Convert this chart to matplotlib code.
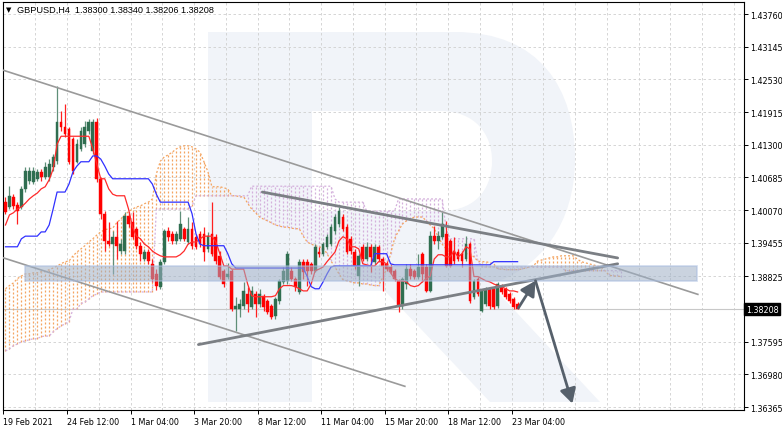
import numpy as np
import matplotlib
matplotlib.use("Agg")
from matplotlib import pyplot as plt
from matplotlib import transforms as mtransforms
from matplotlib.path import Path
from matplotlib.patches import PathPatch, Rectangle

# ---- data (GBPUSD H4) ----
opens = [1.4022, 1.4013, 1.4032, 1.4017, 1.4013, 1.4047, 1.4062, 1.4060, 1.4066, 1.4079,
         1.4069, 1.4069, 1.4088, 1.4100, 1.4173, 1.4163, 1.4160, 1.4141, 1.4098, 1.4122,
         1.4131, 1.4156, 1.4118, 1.4172, 1.4066, 1.4000, 1.3949, 1.3943, 1.3957, 1.3930,
         1.3930, 1.3996, 1.3985, 1.3972, 1.3940, 1.3915, 1.3928, 1.3906, 1.3887, 1.3863,
         1.3910, 1.3968, 1.3962, 1.3949, 1.3953, 1.3972, 1.3947, 1.3972, 1.3957, 1.3962,
         1.3962, 1.3934, 1.3962, 1.3957, 1.3921, 1.3893, 1.3882, 1.3893, 1.3821, 1.3821,
         1.3827, 1.3849, 1.3825, 1.3849, 1.3831, 1.3846, 1.3836, 1.3827, 1.3808, 1.3836,
         1.3872, 1.3874, 1.3893, 1.3878, 1.3853, 1.3910, 1.3910, 1.3906, 1.3893, 1.3928,
         1.3925, 1.3938, 1.3943, 1.3968, 1.3981, 1.3994, 1.3975, 1.3953, 1.3928, 1.3883,
         1.3938, 1.3915, 1.3938, 1.3910, 1.3938, 1.3915, 1.3906, 1.3900, 1.3893, 1.3874,
         1.3827, 1.3868, 1.3896, 1.3893, 1.3882, 1.3925, 1.3900, 1.3855, 1.3958, 1.3949,
         1.3957, 1.3962, 1.3949, 1.3930, 1.3928, 1.3925, 1.3915, 1.3943, 1.3844, 1.3878,
         1.3817, 1.3831, 1.3859, 1.3859, 1.3827, 1.3865, 1.3859, 1.3849, 1.3840, 1.38300]
highs = [1.4032, 1.4052, 1.4037, 1.4022, 1.4052, 1.4088, 1.4088, 1.4088, 1.4084, 1.4084,
         1.4098, 1.4103, 1.4113, 1.4240, 1.4193, 1.4207, 1.4163, 1.4145, 1.4141, 1.4163,
         1.4175, 1.4178, 1.4178, 1.4180, 1.4069, 1.4005, 1.3985, 1.3968, 1.3987, 1.3953,
         1.4004, 1.4004, 1.4004, 1.3975, 1.3947, 1.3934, 1.3934, 1.3915, 1.3896, 1.3915,
         1.3972, 1.3975, 1.3968, 1.3968, 1.4005, 1.3975, 1.3994, 1.3985, 1.3962, 1.3968,
         1.3975, 1.3966, 1.4022, 1.3962, 1.3930, 1.3896, 1.3908, 1.3896, 1.3844, 1.3840,
         1.3872, 1.3863, 1.3865, 1.3855, 1.3859, 1.3849, 1.3840, 1.3831, 1.3844, 1.3878,
         1.3900, 1.3930, 1.3900, 1.3882, 1.3915, 1.3915, 1.3915, 1.3910, 1.3943, 1.3938,
         1.3947, 1.3962, 1.3981, 1.4000, 1.4013, 1.4000, 1.3981, 1.3958, 1.3934, 1.3925,
         1.3943, 1.3947, 1.3943, 1.3943, 1.3941, 1.3919, 1.3911, 1.3906, 1.3896, 1.3878,
         1.3882, 1.3906, 1.3906, 1.3896, 1.3925, 1.3928, 1.3906, 1.3968, 1.3977, 1.3968,
         1.4004, 1.3987, 1.3953, 1.3957, 1.3934, 1.3930, 1.3958, 1.3947, 1.3878, 1.3882,
         1.3859, 1.3863, 1.3863, 1.3863, 1.3872, 1.3868, 1.3863, 1.3853, 1.3844, 1.38340]
lows = [1.4000, 1.4009, 1.4009, 1.3981, 1.4009, 1.4041, 1.4056, 1.4056, 1.4062, 1.4062,
        1.4066, 1.4062, 1.4081, 1.4094, 1.4156, 1.4145, 1.4094, 1.4075, 1.4096, 1.4118,
        1.4126, 1.4150, 1.4113, 1.4060, 1.3990, 1.3930, 1.3940, 1.3887, 1.3915, 1.3925,
        1.3925, 1.3975, 1.3953, 1.3934, 1.3911, 1.3911, 1.3906, 1.3872, 1.3857, 1.3859,
        1.3906, 1.3949, 1.3943, 1.3943, 1.3949, 1.3949, 1.3943, 1.3934, 1.3934, 1.3938,
        1.3911, 1.3928, 1.3921, 1.3906, 1.3878, 1.3863, 1.3878, 1.3817, 1.3780, 1.3806,
        1.3821, 1.3816, 1.3821, 1.3806, 1.3825, 1.3817, 1.3812, 1.3802, 1.3802, 1.3831,
        1.3868, 1.3868, 1.3874, 1.3855, 1.3849, 1.3878, 1.3865, 1.3887, 1.3891, 1.3919,
        1.3921, 1.3934, 1.3940, 1.3962, 1.3975, 1.3968, 1.3925, 1.3925, 1.3896, 1.3865,
        1.3911, 1.3911, 1.3891, 1.3906, 1.3911, 1.3855, 1.3893, 1.3887, 1.3874, 1.3816,
        1.3821, 1.3859, 1.3878, 1.3878, 1.3878, 1.3872, 1.3853, 1.3853, 1.3943, 1.3934,
        1.3953, 1.3900, 1.3900, 1.3906, 1.3911, 1.3900, 1.3911, 1.3833, 1.3840, 1.3846,
        1.3816, 1.3827, 1.3821, 1.3821, 1.3823, 1.3849, 1.3840, 1.3833, 1.3821, 1.38206]
closes = [1.4004, 1.4034, 1.4015, 1.4005, 1.4047, 1.4081, 1.4081, 1.4081, 1.4079, 1.4069,
          1.4088, 1.4094, 1.4107, 1.4173, 1.4163, 1.4150, 1.4098, 1.4081, 1.4131, 1.4156,
          1.4163, 1.4172, 1.4172, 1.4066, 1.4000, 1.3949, 1.3943, 1.3957, 1.3940, 1.3943,
          1.3996, 1.3981, 1.3957, 1.3940, 1.3925, 1.3928, 1.3911, 1.3878, 1.3865, 1.3910,
          1.3968, 1.3957, 1.3949, 1.3962, 1.3981, 1.3953, 1.3972, 1.3940, 1.3938, 1.3943,
          1.3928, 1.3958, 1.3925, 1.3911, 1.3882, 1.3868, 1.3887, 1.3821, 1.3827, 1.3831,
          1.3855, 1.3831, 1.3855, 1.3831, 1.3849, 1.3825, 1.3816, 1.3806, 1.3840, 1.3874,
          1.3893, 1.3925, 1.3878, 1.3863, 1.3910, 1.3891, 1.3893, 1.3893, 1.3938, 1.3925,
          1.3943, 1.3957, 1.3975, 1.3994, 1.4005, 1.3972, 1.3928, 1.3930, 1.3902, 1.3921,
          1.3915, 1.3938, 1.3919, 1.3938, 1.3915, 1.3902, 1.3896, 1.3891, 1.3878, 1.3827,
          1.3878, 1.3896, 1.3883, 1.3882, 1.3900, 1.3887, 1.3855, 1.3958, 1.3949, 1.3958,
          1.3981, 1.3902, 1.3902, 1.3911, 1.3915, 1.3911, 1.3943, 1.3836, 1.3874, 1.3849,
          1.3855, 1.3859, 1.3827, 1.3825, 1.3868, 1.3853, 1.3844, 1.3836, 1.3825, 1.38208]

# Ichimoku lines
tenkan = [1.3979, 1.3998, 1.4002, 1.4009, 1.4013, 1.4020, 1.4028, 1.4034, 1.4039, 1.4047,
          1.4051, 1.4064, 1.4084, 1.4131, 1.4146, 1.4146, 1.4146, 1.4146, 1.4146, 1.4146,
          1.4146, 1.4146, 1.4122, 1.4094, 1.4066, 1.4066, 1.4047, 1.4037, 1.4034, 1.4034,
          1.4034, 1.4009, 1.3975, 1.3958, 1.3953, 1.3943, 1.3938, 1.3930, 1.3925, 1.3921,
          1.3919, 1.3919, 1.3919, 1.3919, 1.3923, 1.3930, 1.3943, 1.3947, 1.3947, 1.3953,
          1.3958, 1.3958, 1.3958, 1.3947, 1.3925, 1.3902, 1.3902, 1.3896, 1.3896, 1.3896,
          1.3896, 1.3868, 1.3846, 1.3844, 1.3844, 1.3844, 1.3844, 1.3844, 1.3846, 1.3859,
          1.3865, 1.3865, 1.3865, 1.3863, 1.3859, 1.3855, 1.3855, 1.3868, 1.3893, 1.3896,
          1.3900, 1.3910, 1.3919, 1.3928, 1.3949, 1.3957, 1.3953, 1.3938, 1.3938, 1.3934,
          1.3906, 1.3904, 1.3902, 1.3902, 1.3910, 1.3910, 1.3906, 1.3889, 1.3878, 1.3874,
          1.3874, 1.3872, 1.3865, 1.3863, 1.3865, 1.3872, 1.3878, 1.3883, 1.3915, 1.3923,
          1.3923, 1.3919, 1.3919, 1.3930, 1.3919, 1.3925, 1.3938, 1.3934, 1.3882, 1.3882,
          1.3878, 1.3874, 1.3872, 1.3868, 1.3865, 1.3863, 1.3859, 1.3855, 1.3855, 1.3853]
kijun = [1.3938, 1.3938, 1.3938, 1.3938, 1.3953, 1.3958, 1.3958, 1.3958, 1.3958, 1.3966,
         1.3966, 1.3979, 1.4009, 1.4041, 1.4041, 1.4041, 1.4056, 1.4079, 1.4090, 1.4098,
         1.4098, 1.4098, 1.4109, 1.4109, 1.4103, 1.4090, 1.4075, 1.4066, 1.4066, 1.4066,
         1.4066, 1.4066, 1.4066, 1.4066, 1.4066, 1.4066, 1.4066, 1.4056, 1.4037, 1.4022,
         1.4022, 1.4022, 1.4022, 1.4022, 1.4022, 1.4022, 1.4022, 1.4000, 1.3962, 1.3943,
         1.3940, 1.3940, 1.3940, 1.3940, 1.3940, 1.3940, 1.3925, 1.3906, 1.3898, 1.3898,
         1.3898, 1.3898, 1.3898, 1.3898, 1.3898, 1.3898, 1.3898, 1.3898, 1.3898, 1.3898,
         1.3898, 1.3898, 1.3898, 1.3898, 1.3898, 1.3898, 1.3882, 1.3863, 1.3859, 1.3859,
         1.3872, 1.3887, 1.3900, 1.3902, 1.3902, 1.3902, 1.3902, 1.3902, 1.3902, 1.3902,
         1.3902, 1.3902, 1.3902, 1.3925, 1.3925, 1.3925, 1.3925, 1.3906, 1.3904, 1.3904,
         1.3904, 1.3904, 1.3904, 1.3904, 1.3904, 1.3904, 1.3904, 1.3904, 1.3904, 1.3904,
         1.3904, 1.3904, 1.3904, 1.3904, 1.3904, 1.3904, 1.3904, 1.3904, 1.3904, 1.3904,
         1.3904, 1.3904, 1.3904, 1.3910, 1.3910, 1.3910, 1.3910, 1.3910, 1.3910, 1.3910]
# cloud spans run 26 bars past the last candle
span_a = [1.3859, 1.3865, 1.3870, 1.3878, 1.3883, 1.3887, 1.3887, 1.3889, 1.3889, 1.3891,
          1.3891, 1.3895, 1.3898, 1.3902, 1.3906, 1.3910, 1.3911, 1.3921, 1.3928, 1.3934,
          1.3940, 1.3947, 1.3953, 1.3960, 1.3966, 1.3970, 1.3972, 1.3973, 1.3983, 1.3990,
          1.3998, 1.4004, 1.4009, 1.4013, 1.4015, 1.4019, 1.4022, 1.4028, 1.4075, 1.4099,
          1.4107, 1.4111, 1.4116, 1.4122, 1.4126, 1.4128, 1.4128, 1.4126, 1.4122, 1.4116,
          1.4098, 1.4079, 1.4051, 1.4051, 1.4051, 1.4049, 1.4047, 1.4034, 1.4034, 1.4032,
          1.4032, 1.4020, 1.4009, 1.4002, 1.3994, 1.3990, 1.3987, 1.3983, 1.3979, 1.3977,
          1.3975, 1.3975, 1.3973, 1.3972, 1.3972, 1.3958, 1.3947, 1.3943, 1.3940, 1.3938,
          1.3936, 1.3925, 1.3911, 1.3900, 1.3887, 1.3876, 1.3874, 1.3872, 1.3870, 1.3870,
          1.3868, 1.3868, 1.3866, 1.3865, 1.3865, 1.3880, 1.3896, 1.3925, 1.3953, 1.3968,
          1.3981, 1.3987, 1.3990, 1.3994, 1.3994, 1.3994, 1.3987, 1.3979, 1.3972, 1.3957,
          1.3943, 1.3934, 1.3925, 1.3925, 1.3925, 1.3925, 1.3925, 1.3925, 1.3919, 1.3911,
          1.3910, 1.3910, 1.3908, 1.3906, 1.3896, 1.3896, 1.3895, 1.3895, 1.3895, 1.3895,
          1.3896, 1.3898, 1.3900, 1.3902, 1.3911, 1.3913, 1.3915, 1.3917, 1.3919, 1.3919,
          1.3921, 1.3921, 1.3921, 1.3921, 1.3915, 1.3910, 1.3908, 1.3906, 1.3904, 1.3902,
          1.3900, 1.3893, 1.3885, 1.3883, 1.3883, 1.3882]
span_b = [1.3742, 1.3746, 1.3752, 1.3755, 1.3759, 1.3761, 1.3763, 1.3765, 1.3765, 1.3769,
          1.3770, 1.3770, 1.3778, 1.3784, 1.3789, 1.3793, 1.3797, 1.3821, 1.3821, 1.3831,
          1.3834, 1.3840, 1.3846, 1.3849, 1.3853, 1.3853, 1.3853, 1.3853, 1.3853, 1.3853,
          1.3853, 1.3853, 1.3853, 1.3853, 1.3853, 1.3853, 1.3853, 1.3853, 1.4009, 1.4009,
          1.4009, 1.4009, 1.4009, 1.4009, 1.4009, 1.4009, 1.4009, 1.4015, 1.4034, 1.4034,
          1.4034, 1.4034, 1.4034, 1.4034, 1.4034, 1.4034, 1.4034, 1.4034, 1.4034, 1.4034,
          1.4034, 1.4034, 1.4052, 1.4052, 1.4052, 1.4052, 1.4052, 1.4052, 1.4052, 1.4052,
          1.4052, 1.4052, 1.4052, 1.4052, 1.4052, 1.4052, 1.4052, 1.4052, 1.4052, 1.4052,
          1.4052, 1.4052, 1.4052, 1.4028, 1.4022, 1.4022, 1.4022, 1.4022, 1.4022, 1.4022,
          1.4022, 1.4005, 1.4005, 1.4005, 1.4005, 1.4005, 1.4005, 1.4005, 1.4005, 1.4028,
          1.4028, 1.4028, 1.4028, 1.4028, 1.4028, 1.4028, 1.4028, 1.4028, 1.4028, 1.4028,
          1.4028, 1.3972, 1.3953, 1.3953, 1.3953, 1.3953, 1.3953, 1.3953, 1.3953, 1.3911,
          1.3900, 1.3900, 1.3900, 1.3900, 1.3900, 1.3900, 1.3900, 1.3900, 1.3900, 1.3900,
          1.3900, 1.3900, 1.3900, 1.3900, 1.3900, 1.3900, 1.3900, 1.3900, 1.3900, 1.3900,
          1.3900, 1.3893, 1.3893, 1.3893, 1.3893, 1.3893, 1.3893, 1.3893, 1.3893, 1.3893,
          1.3893, 1.3893, 1.3893, 1.3893, 1.3893, 1.3893]

# axis labels
date_labels = ["19 Feb 2021", "24 Feb 12:00", "1 Mar 04:00", "3 Mar 20:00", "8 Mar 12:00",
               "11 Mar 04:00", "15 Mar 20:00", "18 Mar 12:00", "23 Mar 04:00"]
date_bars = [0, 16, 32, 48, 64, 80, 96, 112, 128]
price_ticks = [1.43760, 1.43145, 1.42530, 1.41915, 1.41300, 1.40685, 1.40070,
               1.39455, 1.38825, 1.37595, 1.36980, 1.36365]
last_price = 1.38208
title_text = "GBPUSD,H4  1.38300 1.38340 1.38206 1.38208"

# drawn objects: (bars, prices)
channel_upper = ([-1.3, 174.6], [1.4272, 1.3848])
channel_lower = ([-1.3, 100.8], [1.3919, 1.3675])
wedge_upper = ([64.7, 154.2], [1.4041, 1.3917])
wedge_lower = ([48.6, 154.2], [1.3754, 1.3906])
forecast_path = ([129.2, 133.5, 142.8], [1.3823, 1.3874, 1.3643])
zone_bars = [5.0, 174.3]
zone_prices = [1.3874, 1.3902]

# ---- figure ----
W, H = 782, 431
fig = plt.figure(figsize=(W / 100, H / 100), dpi=100)
fig.patch.set_facecolor("white")
ax = fig.add_axes([2.5 / W, (H - 411) / H, 741 / W, 408 / H])
ax.set_xlim(-0.75, 185.9)
ax.set_ylim(1.36309, 1.43986)


# RoboForex style "R" watermark, in figure pixels
def px(x, y):
    return (x / W, 1 - y / H)


verts = [px(208, 33), px(455, 33), px(540, 33), px(575, 90), px(575, 160),
         px(575, 225), px(540, 270), px(490, 285), px(600, 403), px(490, 403),
         px(385, 292), px(312, 292), px(312, 403), px(208, 403), px(208, 33),
         px(312, 112), px(312, 212), px(440, 212), px(480, 212), px(492, 185), px(492, 162),
         px(492, 135), px(475, 112), px(440, 112), px(312, 112)]
codes = ([Path.MOVETO, Path.LINETO, Path.CURVE4, Path.CURVE4, Path.CURVE4,
          Path.CURVE4, Path.CURVE4, Path.CURVE4, Path.LINETO, Path.LINETO,
          Path.LINETO, Path.LINETO, Path.LINETO, Path.LINETO, Path.CLOSEPOLY,
          Path.MOVETO, Path.LINETO, Path.LINETO, Path.CURVE4, Path.CURVE4, Path.CURVE4,
          Path.CURVE4, Path.CURVE4, Path.CURVE4, Path.CLOSEPOLY])
ax.add_patch(PathPatch(Path(verts, codes), transform=fig.transFigure,
                       facecolor="#f1f4f9", edgecolor="none", zorder=0))

# grid
for xb in range(-8, 190, 8):
    ax.axvline(xb - 0.5, color="#cfcfcf", lw=0.6, ls=(0, (3, 3)), zorder=1)
for p in price_ticks:
    ax.axhline(p, color="#cfcfcf", lw=0.6, ls=(0, (3, 3)), zorder=1)
ax.axhline(last_price, color="#c8c8c8", lw=0.8, zorder=1)

# ichimoku cloud
sa = np.array(span_a)
sb = np.array(span_b)
cx = np.arange(len(sa))
cloud_cols = np.where(sa >= sb, "#f4a460", "#d4b0dc")
ax.vlines(cx, np.minimum(sa, sb), np.maximum(sa, sb), colors=cloud_cols,
          linestyles=(0, (1.6, 1.6)), lw=0.9, zorder=2)
ax.plot(cx, sa, color="#f4a460", lw=0.9, ls=(0, (1.6, 1.6)), zorder=2)
ax.plot(cx, sb, color="#d4b0dc", lw=0.9, ls=(0, (1.6, 1.6)), zorder=2)

# candles
o = np.array(opens)
c = np.array(closes)
hi = np.array(highs)
lo = np.array(lows)
bx = np.arange(len(o))
up = c >= o
ax.vlines(bx[up], lo[up], hi[up], color="#5f8f78", lw=0.9, zorder=3)
ax.vlines(bx[~up], lo[~up], hi[~up], color="#ff2020", lw=0.9, zorder=3)
body_h = np.maximum(np.abs(c - o), 0.00006)
ax.bar(bx[up], body_h[up], bottom=np.minimum(o, c)[up], width=0.7,
       color="#2f6e50", edgecolor="#2f6e50", lw=0.3, zorder=3)
ax.bar(bx[~up], body_h[~up], bottom=np.minimum(o, c)[~up], width=0.7,
       color="#ff0000", edgecolor="#ff0000", lw=0.3, zorder=3)

# tenkan / kijun
ax.plot(bx, tenkan, color="#ff2a2a", lw=0.9, zorder=4)
ax.plot(bx, kijun, color="#3030ff", lw=0.9, zorder=4)

# trend lines
ax.plot(*channel_upper, color="#9a9a9a", lw=1.2, zorder=5, solid_capstyle="butt")
ax.plot(*channel_lower, color="#9a9a9a", lw=1.2, zorder=5, solid_capstyle="butt")
ax.plot(*wedge_upper, color="#7b7f84", lw=2.0, zorder=5, solid_capstyle="round")
ax.plot(*wedge_lower, color="#7b7f84", lw=2.0, zorder=5, solid_capstyle="round")

# support/resistance zone
ax.add_patch(Rectangle((zone_bars[0], zone_prices[0]), zone_bars[1] - zone_bars[0],
                       zone_prices[1] - zone_prices[0], facecolor="#9fb0c6",
                       edgecolor="#a8bde0", lw=1.2, alpha=0.55, zorder=6))

# forecast arrows
fx, fy = forecast_path
for k in range(2):
    ax.annotate("", xy=(fx[k + 1], fy[k + 1]), xytext=(fx[k], fy[k]),
                arrowprops=dict(arrowstyle="-|>,head_length=0.55,head_width=0.3",
                                mutation_scale=16, color="#56606b", lw=2.0,
                                shrinkA=0, shrinkB=0), zorder=7)

# axes styling
for s in ax.spines.values():
    s.set_color("black")
    s.set_linewidth(0.8)
ax.yaxis.tick_right()
ax.set_yticks(price_ticks)
ax.set_yticklabels(["%.5f" % p for p in price_ticks])
ax.set_xticks([b - 0.5 for b in date_bars])
ax.set_xticklabels(date_labels, ha="left")
ax.tick_params(axis="y", direction="out", length=3, width=0.7, pad=1.5,
               labelsize=5.8, colors="black")
ax.tick_params(axis="x", direction="out", length=3, width=0.7, pad=2,
               labelsize=5.8, colors="black")

ax.text(1.003, last_price, "%.5f" % last_price,
        transform=mtransforms.blended_transform_factory(ax.transAxes, ax.transData),
        color="white", fontsize=5.8, va="center", ha="left", clip_on=False,
        bbox=dict(boxstyle="square,pad=0.2", facecolor="black", edgecolor="black"))

fig.text(6 / W, 1 - 10 / H, "\u25bc", fontsize=5, va="center", ha="left")
fig.text(17 / W, 1 - 10 / H, title_text, fontsize=6.6, va="center", ha="left",
         family="Liberation Sans")

fig.savefig("out.png", dpi=100)
